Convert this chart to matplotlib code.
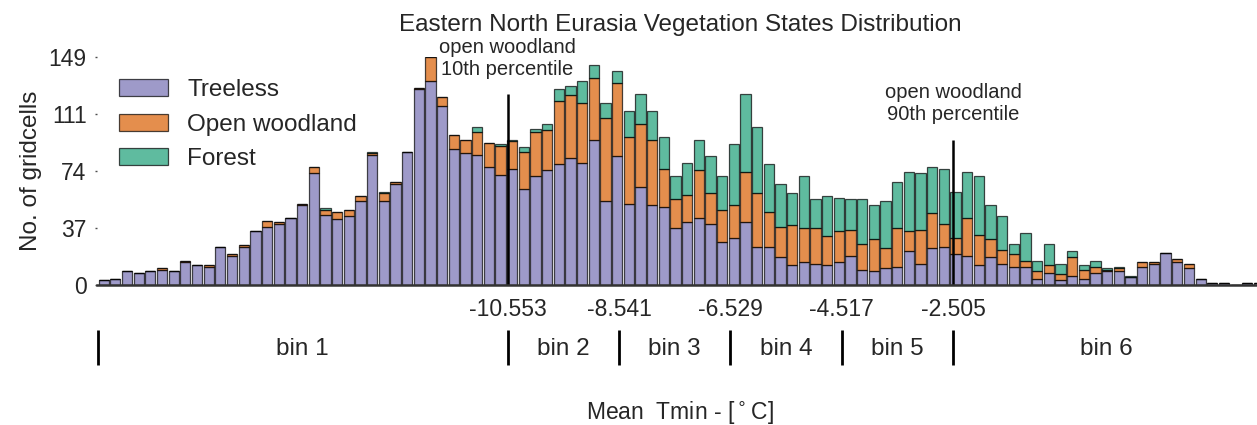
import numpy as np
import matplotlib
matplotlib.use('Agg')
import matplotlib.pyplot as plt

plt.rcParams['font.family'] = ['Liberation Sans', 'DejaVu Sans']

# Histogram of mean Tmin, 100 bins from the coldest to the warmest gridcell
tmin_lo, tmin_hi = -17.955, 3.125
n_bins = 100

# Gridcell counts per bin, stacked: treeless / open woodland / forest
treeless = [3, 4, 9, 8, 9, 10, 9, 15, 13, 12,
            25, 19, 25, 35, 38, 40, 44, 52, 73, 46,
            43, 45, 55, 85, 55, 66, 87, 128, 133, 117,
            89, 86, 85, 77, 72, 76, 63, 71, 75, 79,
            83, 80, 95, 55, 84, 53, 64, 52, 51, 37,
            41, 44, 40, 28, 31, 41, 25, 25, 18, 13,
            15, 14, 13, 15, 19, 10, 9, 11, 12, 22,
            14, 24, 25, 20, 19, 13, 18, 14, 12, 12,
            4, 8, 3, 6, 4, 8, 9, 9, 5, 12,
            14, 21, 15, 11, 4, 1, 1, 0, 1, 1]
open_woodland = [0, 0, 0, 0, 0, 1, 0, 1, 0, 1,
                 0, 1, 1, 0, 4, 1, 0, 1, 4, 3,
                 5, 4, 3, 1, 5, 1, 0, 1, 16, 6,
                 9, 9, 15, 16, 19, 18, 24, 29, 26, 41,
                 41, 39, 40, 54, 48, 44, 41, 43, 25, 19,
                 18, 31, 20, 21, 21, 33, 35, 23, 20, 26,
                 22, 23, 19, 20, 17, 17, 21, 13, 25, 13,
                 22, 23, 15, 11, 25, 20, 12, 9, 8, 4,
                 5, 5, 4, 12, 6, 4, 1, 2, 0, 3,
                 1, 0, 2, 3, 0, 0, 0, 0, 0, 0]
forest = [0, 0, 0, 0, 0, 0, 0, 0, 0, 0,
          0, 0, 0, 0, 0, 0, 0, 0, 0, 1,
          0, 0, 0, 1, 1, 0, 0, 0, 0, 0,
          0, 0, 3, 0, 1, 1, 3, 2, 4, 8,
          6, 14, 9, 10, 8, 17, 20, 19, 21, 15,
          21, 20, 24, 22, 40, 51, 43, 31, 28, 21,
          34, 19, 26, 22, 20, 29, 22, 31, 30, 39,
          37, 30, 36, 30, 30, 38, 22, 22, 7, 18,
          7, 14, 7, 4, 3, 4, 1, 1, 1, 0,
          0, 0, 0, 0, 0, 0, 0, 0, 0, 0]

# Open woodland percentiles and the Tmin bin boundaries between them
p10, p90 = -10.553, -2.505
bin_edges = [-10.553, -8.541, -6.529, -4.517, -2.505]
bin_names = ['bin 1', 'bin 2', 'bin 3', 'bin 4', 'bin 5', 'bin 6']
p10_top, p90_top = 125, 95

labels = ['Treeless', 'Open woodland', 'Forest']
colors = ['#7570b3', '#d95f02', '#1b9e77']

edges = np.linspace(tmin_lo, tmin_hi, n_bins + 1)
centers = 0.5 * (edges[:-1] + edges[1:])
width = 0.88 * (edges[1] - edges[0])
tree = np.array(treeless)
ow = np.array(open_woodland)
fo = np.array(forest)

fig = plt.figure(figsize=(12.57, 4.25), dpi=100)
ax = fig.add_axes([97 / 1257, 140 / 425, 1160 / 1257, 228 / 425])

kw = dict(width=width, edgecolor='k', linewidth=0.9, alpha=0.7)
ax.bar(centers, tree, color=colors[0], label=labels[0], **kw)
ax.bar(centers, ow, bottom=tree, color=colors[1], label=labels[1], **kw)
ax.bar(centers, fo, bottom=tree + ow, color=colors[2], label=labels[2], **kw)

ymax = (tree + ow + fo).max()
ax.set_ylim(0, ymax)
ax.set_xlim(tmin_lo - 0.015, tmin_lo - 0.015 + 1160 / 55.36)

# percentile markers
ax.vlines(p10, 0, p10_top, color='k', lw=1.8)
ax.vlines(p90, 0, p90_top, color='k', lw=1.8)
ax.text(p10, 148, 'open woodland\n10th percentile', ha='center', va='center',
        fontsize=14.5, color='0.15', linespacing=1.2)
ax.text(p90, 118.5, 'open woodland\n90th percentile', ha='center', va='center',
        fontsize=14.5, color='0.15', linespacing=1.2)

# y ticks at quarters of the maximum count
yt = np.linspace(0, ymax, 5)
ax.set_yticks(yt)
ax.set_yticklabels(['%d' % v for v in yt])
ax.set_xticks(bin_edges)
ax.set_xticklabels(['%.3f' % v for v in bin_edges])
ax.tick_params(axis='y', length=1.5, width=1, color='0.3', labelsize=16.5,
               pad=6, labelcolor='0.15')
ax.tick_params(axis='x', length=0, labelsize=16.5, pad=9, labelcolor='0.15')
for s in ['top', 'right', 'left']:
    ax.spines[s].set_visible(False)
ax.spines['bottom'].set_linewidth(1.8)
ax.spines['bottom'].set_color('0.2')

ax.set_ylabel('No. of gridcells', fontsize=17.5, color='0.15', labelpad=5)

# bin row underneath the axis
sep = [tmin_lo] + bin_edges
ax.vlines(sep, -29.5, -52.5, color='k', lw=2.0, clip_on=False)
mids = [0.5 * (a + b) for a, b in zip(sep, bin_edges + [tmin_hi - 0.1])]
for m, name in zip(mids, bin_names):
    ax.text(m, -41.5, name, ha='center', va='center', fontsize=17.5,
            color='0.15', clip_on=False)

fig.text(680 / 1257, 1 - 412 / 425, r'Mean  Tmin - [$^\circ$C]', ha='center',
         va='center', fontsize=16.5, color='0.15')
fig.text(680 / 1257, 1 - 25 / 425,
         'Eastern North Eurasia Vegetation States Distribution',
         ha='center', va='center', fontsize=17.5, color='0.15')

ax.legend(loc='upper left', bbox_to_anchor=(0.019, 0.902), frameon=False,
          fontsize=17.5, handlelength=2.0, handleheight=0.7,
          handletextpad=0.8, labelspacing=0.5, borderpad=0, borderaxespad=0,
          labelcolor='0.15')

fig.savefig('out.png', dpi=100, facecolor='white')
